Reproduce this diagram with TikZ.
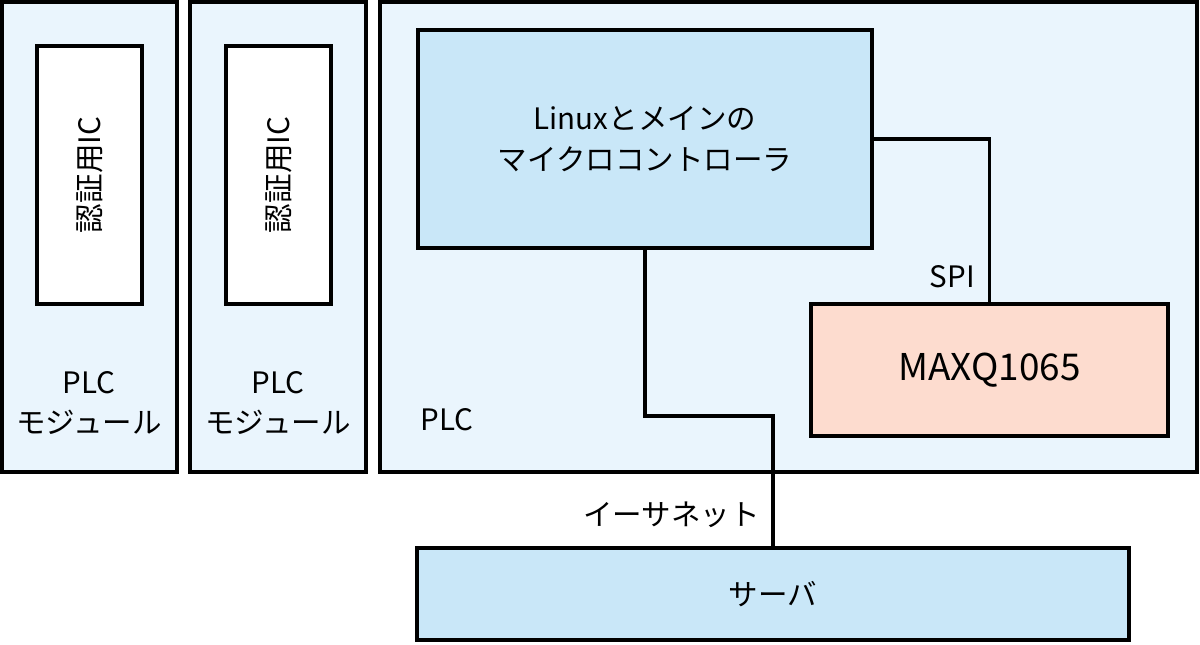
\documentclass[tikz,border=0pt]{standalone}
\usepackage{fontspec}
\setmainfont{Noto Sans CJK JP}
\definecolor{plcbg}{HTML}{EAF5FD}
\definecolor{cpubg}{HTML}{C9E7F8}
\definecolor{maxqbg}{HTML}{FDDCCF}

\begin{document}
\begin{tikzpicture}[x=0.02cm,y=-0.02cm]
  \tikzstyle{blk}=[draw,line width=2pt,inner sep=0pt,font=\fontsize{16.8}{23}\selectfont,align=center]
  \tikzstyle{lab}=[inner sep=0pt,font=\fontsize{16.8}{23}\selectfont,align=center]
  \useasboundingbox [fill=white] (0,0) rectangle (1200,645) ;
  \node [blk,fill=plcbg,minimum width=3.5cm,minimum height=9.4cm] (mod1) at (89.5,237) {} ;
  \node [blk,fill=plcbg,minimum width=3.52cm,minimum height=9.4cm] (mod2) at (278,237) {} ;
  \node [blk,fill=plcbg,minimum width=16.34cm,minimum height=9.4cm] (plc) at (788.5,237) {} ;
  \node [blk,fill=white,minimum width=2.1cm,minimum height=5.16cm] (ic1) at (89.5,175) {} ;
  \node [blk,fill=white,minimum width=2.1cm,minimum height=5.16cm] (ic2) at (278.5,175) {} ;
  \node [lab,rotate=90] (ictext1) at (ic1) {認証用IC} ;
  \node [lab,rotate=90] (ictext2) at (ic2) {認証用IC} ;
  \node [lab] (modlab1) at (89,403) {PLC\\モジュール} ;
  \node [lab] (modlab2) at (278,403) {PLC\\モジュール} ;
  \node [lab,anchor=west] (plclab) at (420,420) {PLC} ;
  \node [blk,fill=cpubg,minimum width=9.08cm,minimum height=4.36cm] (cpu) at (645,139) {Linuxとメインの\\マイクロコントローラ} ;
  \node [blk,fill=maxqbg,minimum width=7.14cm,minimum height=2.64cm,font=\fontsize{21}{25}\selectfont] (maxq) at (989.5,370) {MAXQ1065} ;
  \node [blk,fill=cpubg,minimum width=14.24cm,minimum height=1.84cm] (server) at (773,594) {サーバ} ;
  \coordinate (bend) at (773,416) ;
  \draw [line width=2pt] (cpu.east) -| (maxq.north) ;
  \draw [line width=2pt] (cpu.south) |- (bend) -- (server.north) ;
  \node [lab,anchor=east] (spilab) at (975,277) {SPI} ;
  \node [lab,anchor=east] (ethlab) at (760,515) {イーサネット} ;
\end{tikzpicture}
\end{document}
